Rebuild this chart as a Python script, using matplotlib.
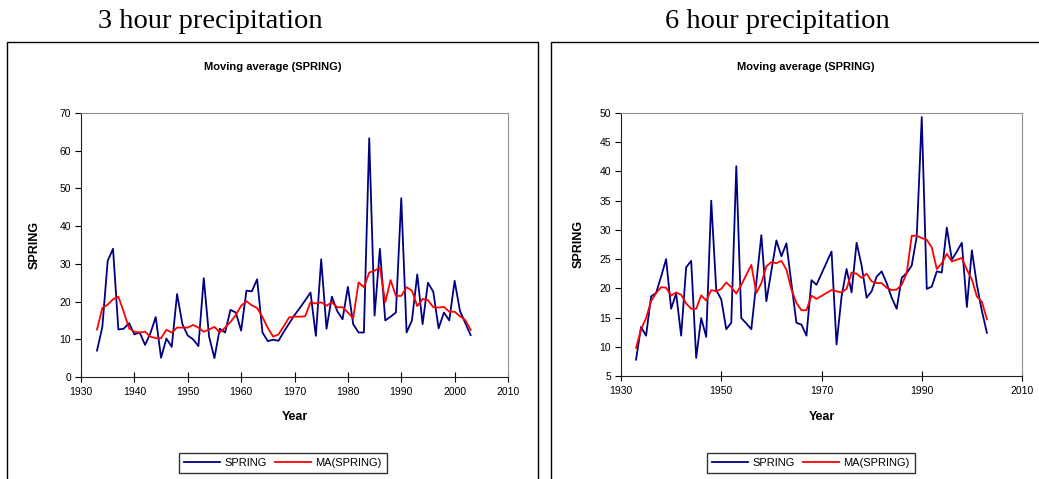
import matplotlib.pyplot as plt
from matplotlib.patches import Rectangle

plt.rcParams['font.family'] = ['Liberation Sans', 'DejaVu Sans']

# ---- data ----
years = list(range(1933, 2004))

# 3 hour precipitation
spring_3h = [7.0, 13.3, 30.8, 34.0, 12.6, 12.8, 14.3, 11.3, 11.8, 8.5,
             11.6, 15.9, 5.1, 10.2, 8.0, 22.0, 14.0, 11.0, 10.0, 8.2,
             26.2, 10.7, 5.0, 12.8, 11.8, 17.8, 17.1, 12.3, 22.9, 22.7,
             25.9, 11.8, 9.5, 9.9, 9.6, 12.0, 14.2, 16.4, 18.3, 20.3,
             22.4, 10.9, 31.2, 12.8, 21.3, 17.5, 15.3, 23.9, 14.0, 11.8,
             11.8, 63.3, 16.3, 34.0, 15.0, 16.0, 17.1, 47.4, 11.8, 15.0,
             27.2, 14.0, 25.0, 22.6, 12.9, 17.1, 15.0, 25.5, 17.5, 14.3,
             11.1]
ma_3h = [12.6, 18.3, 19.2, 20.6, 21.3, 17.3, 12.9, 12.0, 11.8, 12.0,
         10.7, 10.3, 10.3, 12.5, 11.8, 13.1, 13.1, 13.1, 13.8, 13.1,
         12.0, 12.6, 13.3, 11.8, 13.1, 14.6, 16.4, 18.9, 20.1, 19.0,
         18.3, 15.9, 13.0, 10.7, 11.3, 13.5, 15.8, 16.0, 16.0, 16.1,
         19.8, 19.5, 19.8, 18.9, 19.8, 18.5, 18.5, 17.1, 15.6, 25.1,
         23.8, 27.7, 28.2, 29.0, 19.8, 25.7, 21.5, 21.5, 23.8, 22.9,
         18.8, 20.7, 20.4, 18.5, 18.4, 18.6, 17.3, 17.3, 16.1, 15.1,
         12.5]

# 6 hour precipitation
spring_6h = [7.8, 13.4, 11.9, 18.6, 19.2, 22.0, 25.0, 16.5, 19.1, 11.9,
             23.6, 24.7, 8.1, 14.9, 11.7, 35.0, 19.7, 18.1, 13.0, 14.1,
             40.9, 14.9, 14.0, 13.0, 21.0, 29.1, 17.8, 23.0, 28.2, 25.5,
             27.7, 20.8, 14.1, 13.8, 11.9, 21.4, 20.6, 22.5, 24.4, 26.3,
             10.4, 18.6, 23.3, 19.3, 27.8, 23.9, 18.4, 19.5, 22.0, 22.9,
             20.9, 18.4, 16.5, 21.8, 22.6, 23.9, 28.9, 49.3, 19.9, 20.3,
             22.9, 22.7, 30.4, 24.9, 26.3, 27.8, 16.8, 26.5, 20.6, 16.1,
             12.4]
ma_6h = [9.8, 13.0, 14.9, 17.8, 19.2, 20.2, 20.1, 18.75, 19.3, 18.9,
         17.4, 16.5, 16.5, 18.8, 17.9, 19.7, 19.5, 19.9, 21.0, 20.2,
         19.1, 20.6, 22.3, 24.0, 19.2, 20.9, 23.75, 24.5, 24.3, 24.7,
         23.2, 19.8, 17.5, 16.25, 16.25, 18.75, 18.2, 18.7, 19.2, 19.7,
         19.5, 19.3, 19.9, 22.7, 22.5, 21.8, 22.5, 21.2, 20.9, 20.9,
         20.1, 19.7, 19.8, 20.6, 22.6, 29.0, 29.0, 28.6, 28.3, 27.0,
         23.3, 24.3, 25.9, 24.6, 24.9, 25.2, 23.2, 21.5, 18.6, 17.7,
         14.7]

W, H = 1039, 479
fig = plt.figure(figsize=(W / 100, H / 100), dpi=100)


def px(x0, y0, x1, y1):
    # pixel box (top-left origin) -> figure rect
    return [x0 / W, (H - y1) / H, (x1 - x0) / W, (y1 - y0) / H]


def panel(box, area, series, ma, yticks, xticks, heading, head_x, title_x, leg_x):
    bx0, bx1 = box
    # outer chart box, runs off the bottom of the picture
    fig.patches.append(Rectangle((bx0 / W, -0.1), (bx1 - bx0) / W, (H - 42) / H + 0.1,
                                 transform=fig.transFigure, fill=False,
                                 edgecolor='black', linewidth=1.0))
    fig.text(head_x / W, (H - 22) / H, heading, ha='center', va='center',
             fontsize=20.5, family='Liberation Serif')
    fig.text(title_x / W, (H - 67) / H, 'Moving average (SPRING)', ha='center',
             va='center', fontsize=8, fontweight='bold')

    ax = fig.add_axes(px(*area))
    ax.plot(years, series, color='#000080', lw=1.3, label='SPRING')
    ax.plot(years, ma, color='#ff0000', lw=1.3, label='MA(SPRING)')
    ax.set_xlim(1930, 2010)
    ax.set_ylim(yticks[0], yticks[-1])
    ax.set_xticks(xticks)
    ax.set_yticks(yticks)
    ax.tick_params(axis='x', direction='inout', length=7, labelsize=7.5, pad=4)
    ax.tick_params(axis='y', direction='out', length=4, labelsize=7.5, pad=3)
    for s in ['top', 'right']:
        ax.spines[s].set_color('#909090')
    for s in ['left', 'bottom']:
        ax.spines[s].set_color('#222222')
    ax.set_xlabel('Year', fontsize=9, fontweight='bold')
    ax.set_ylabel('SPRING', fontsize=9, fontweight='bold')
    ax.xaxis.set_label_coords(0.5, -(411 - area[3]) / (area[3] - area[1]))
    ax.yaxis.set_label_coords(-(area[0] - bx0 - 34) / (area[2] - area[0]), 0.5)

    leg = ax.legend(loc='center', bbox_to_anchor=(leg_x / W, (H - 463) / H),
                    bbox_transform=fig.transFigure, ncol=2, fontsize=8,
                    frameon=True, fancybox=False, handlelength=3.2,
                    columnspacing=0.8, handletextpad=0.4, borderpad=0.45)
    leg.get_frame().set_edgecolor('black')
    leg.get_frame().set_linewidth(1.0)
    return ax


panel((7, 538), (81, 113, 508, 377), spring_3h, ma_3h,
      list(range(0, 71, 10)), list(range(1930, 2011, 10)), '3 hour precipitation',
      210, 273, 283)
panel((551, 1061), (621, 113, 1022, 376), spring_6h, ma_6h,
      list(range(5, 51, 5)), list(range(1930, 2011, 20)), '6 hour precipitation',
      777, 806, 811)

fig.savefig('out.png', dpi=100)
